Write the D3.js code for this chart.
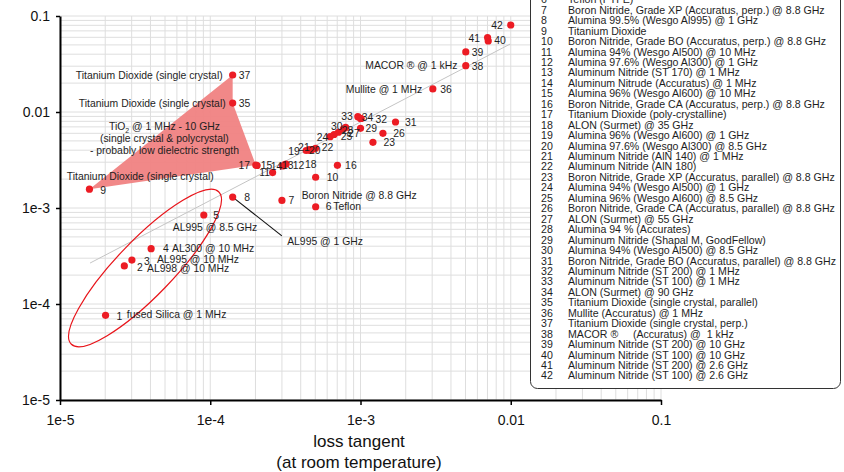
<!DOCTYPE html>
<html><head><meta charset="utf-8">
<script src="https://cdn.jsdelivr.net/npm/d3@7"></script>
<style>body{margin:0;background:#fff} svg{display:block;font-family:"Liberation Sans",Arial,sans-serif}</style>
</head><body><svg id="c" width="844" height="472"></svg>
<script>
// ---------- data ----------
const ids = d3.range(1, 43);
const lossTangent = [2.01e-5,2.68e-5,3.01e-5,4.04e-5,9.06e-5,5.03e-4,3.0e-4,1.41e-4,1.57e-5,5.03e-4,
  2.6e-4,3.2e-4,3.13e-4,3.03e-4,2.05e-4,7.02e-4,2.01e-4,4.61e-4,4.35e-4,4.76e-4,
  4.55e-4,5.02e-4,1.21e-3,6.28e-4,7.13e-4,1.41e-3,7.96e-4,7.69e-4,1.0e-3,6.67e-4,
  1.71e-3,1.01e-3,9.6e-4,9.97e-4,1.41e-4,3.03e-3,1.41e-4,5.02e-3,5.02e-3,7.08e-3,7.01e-3,1.0e-2];
const yValue = [7.63e-5,2.49e-4,2.87e-4,3.77e-4,8.45e-4,1.03e-3,1.2e-3,1.30e-3,1.57e-3,2.09e-3,
  2.34e-3,2.87e-3,2.84e-3,2.74e-3,2.77e-3,2.78e-3,2.8e-3,3.97e-3,3.97e-3,4.06e-3,
  4.06e-3,4.19e-3,4.83e-3,5.53e-3,6.15e-3,6.0e-3,6.9e-3,6.65e-3,6.76e-3,5.83e-3,
  7.87e-3,8.56e-3,8.93e-3,8.6e-3,0.0124,0.0174,0.0243,0.0304,0.0422,0.055,0.0597,0.0806];
const materials = [
  "Fused Silica @ 1 MHz",
  "Alumina 99.8% (Wesgo Al998) @ 10 MHz",
  "Alumina 99.5% (Wesgo Al995) @ 10 MHz",
  "Alumina 97.6% (Wesgo Al300) @ 10 MHz",
  "Alumina 99.5% (Wesgo Al995) @ 8.5 GHz",
  "Teflon (PTFE)",
  "Boron Nitride, Grade XP (Accuratus, perp.) @ 8.8 GHz",
  "Alumina 99.5% (Wesgo Al995) @ 1 GHz",
  "Titanium Dioxide",
  "Boron Nitride, Grade BO (Accuratus, perp.) @ 8.8 GHz",
  "Alumina 94% (Wesgo Al500) @ 10 MHz",
  "Alumina 97.6% (Wesgo Al300) @ 1 GHz",
  "Aluminum Nitride (ST 170) @ 1 MHz",
  "Aluminum Nitrude (Accuratus) @ 1 MHz",
  "Alumina 96% (Wesgo Al600) @ 10 MHz",
  "Boron Nitride, Grade CA (Accuratus, perp.) @ 8.8 GHz",
  "Titanium Dioxide (poly-crystalline)",
  "ALON (Surmet) @ 35 GHz",
  "Alumina 96% (Wesgo Al600) @ 1 GHz",
  "Alumina 97.6% (Wesgo Al300) @ 8.5 GHz",
  "Aluminum Nitride (AlN 140) @ 1 MHz",
  "Aluminum Nitride (AlN 180)",
  "Boron Nitride, Grade XP (Accuratus, parallel) @ 8.8 GHz",
  "Alumina 94% (Wesgo Al500) @ 1 GHz",
  "Alumina 96% (Wesgo Al600) @ 8.5 GHz",
  "Boron Nitride, Grade CA (Accuratus, parallel) @ 8.8 GHz",
  "ALON (Surmet) @ 55 GHz",
  "Alumina 94 % (Accurates)",
  "Aluminum Nitride (Shapal M, GoodFellow)",
  "Alumina 94% (Wesgo Al500) @ 8.5 GHz",
  "Boron Nitride, Grade BO (Accuratus, parallel) @ 8.8 GHz",
  "Aluminum Nitride (ST 200) @ 1 MHz",
  "Aluminum Nitride (ST 100) @ 1 MHz",
  "ALON (Surmet) @ 90 GHz",
  "Titanium Dioxide (single crystal, parallel)",
  "Mullite (Accuratus) @ 1 MHz",
  "Titanium Dioxide (single crystal, perp.)",
  "MACOR \u00AE     (Accuratus) @  1 kHz",
  "Aluminum Nitride (ST 200) @ 10 GHz",
  "Aluminum Nitride (ST 100) @ 10 GHz",
  "Aluminum Nitride (ST 200) @ 2.6 GHz",
  "Aluminum Nitride (ST 100) @ 2.6 GHz"];
const tickValues = [1e-5, 1e-4, 1e-3, 1e-2, 1e-1];
const tickLabels = ["1e-5", "1e-4", "1e-3", "0.01", "0.1"];
const xTitle = ["loss tangent", "(at room temperature)"];
const tio2Group = [9, 37, 35, 17];
const trendX = [1.585e-5, 0.0099];
const trendY = [2.67e-4, 0.051];
const ellipseCenter = [3.68e-5, 2.37e-4];
const tio2Text = ["TiO|2| @ 1 MHz - 10 GHz", "(single crystal & polycrystal)", "- probably low dielectric strength"];
const notes = [
  [1, "fused Silica @ 1 MHz"], [2, "AL998 @ 10 MHz"], [3, "AL995 @ 10 MHz"], [4, "AL300 @ 10 MHz"],
  [5, "AL995 @ 8.5 GHz"], [6, "Teflon"], [7, "Boron Nitride @ 8.8 GHz"], [8, "AL995 @ 1 GHz"],
  [9, "Titanium Dioxide (single crystal)"], [35, "Titanium Dioxide (single crystal)"],
  [37, "Titanium Dioxide (single crystal)"], [36, "Mullite @ 1 MHz"], [38, "MACOR \u00AE @ 1 kHz"]];

// ---------- layout (label offsets, px) ----------
const numOff = {1:[11,1],2:[12.7,1],3:[12,1],4:[12,0],5:[9.5,0],6:[10,-0.7],7:[6.5,0],8:[11.5,0],9:[10.7,1],
  10:[11,0],11:[-2.5,-0.3,'end'],12:[6.7,1.7],13:[-2.8,1.2],14:[-11.8,0],15:[3.7,0.2],16:[7.7,0],17:[-5.7,0,'end'],
  18:[-5,13.8],19:[-18,0.8],20:[-3,1.2],21:[-11,-1.8],22:[6.2,-0.6],23:[10.5,0.4],24:[-13.3,0.3],25:[2.4,4.4],
  26:[10.3,0],27:[2.5,5.8],28:[-1.6,1],29:[5,0],30:[-3,-8],31:[9.5,0.7],32:[14.3,0.8],33:[-5,0,'end'],34:[1.4,-1.3],
  35:[6,0],36:[7.3,0],37:[6,0],38:[6,0.3],39:[6,0],40:[6,-1],41:[-7.5,0.5,'end'],42:[-8,0,'end']};
const noteOff = {1:[21.3,-0.6],2:[22.7,2],3:[25,-1],4:[21,0],5:[-31,12],6:[17.6,-0.7],7:[19.7,-5.2],8:[54.5,43.8],
  9:[-22.6,-12.6],35:[-7,0,'end'],37:[-10,0,'end'],36:[-10.7,0,'end'],38:[-8.4,0,'end']};

const W = 844, H = 472;
const svg = d3.select("#c");
const x = d3.scaleLog().domain([1e-5, 0.1]).range([60, 661]);
const y = d3.scaleLog().domain([1e-5, 0.1]).range([400, 16]);
const pts = ids.map((id, i) => ({id, x: lossTangent[i], y: yValue[i], name: materials[i]}));
const P = id => pts[id - 1];
const fs = 10.4, lfs = 10.6, red = "#ec1c24", ink = "#1e1e1e";

// grid
const g = svg.append("g");
g.selectAll(".vg").data(x.ticks()).join("line")
  .attr("x1", d => x(d)).attr("x2", d => x(d)).attr("y1", y(1e-5)).attr("y2", y(0.1))
  .attr("stroke", "#dedede").attr("stroke-width", 1);
g.selectAll(".hg").data(y.ticks()).join("line")
  .attr("x1", x(1e-5)).attr("x2", x(0.1)).attr("y1", d => y(d)).attr("y2", d => y(d))
  .attr("stroke", "#dedede").attr("stroke-width", 1);

// trend line
svg.append("line").attr("x1", x(trendX[0])).attr("y1", y(trendY[0]))
  .attr("x2", x(trendX[1])).attr("y2", y(trendY[1]))
  .attr("stroke", "#c4c4c4").attr("stroke-width", 1);

// TiO2 polygon
svg.append("polygon")
  .attr("points", tio2Group.map(id => [x(P(id).x), y(P(id).y)].join(",")).join(" "))
  .attr("fill", "#f08282").attr("fill-opacity", 0.95);

// ellipse
svg.append("ellipse")
  .attr("transform", `translate(${x(ellipseCenter[0])},${y(ellipseCenter[1])}) rotate(-46)`)
  .attr("rx", 106).attr("ry", 28).attr("fill", "none").attr("stroke", "#e8141a").attr("stroke-width", 1.2);

// axes
const ax = svg.append("g").attr("transform", `translate(0,${y(1e-5)})`)
  .call(d3.axisBottom(x).tickValues(tickValues).tickFormat((d, i) => tickLabels[i]).tickSize(5).tickSizeOuter(0).tickPadding(10));
const ay = svg.append("g").attr("transform", `translate(${x(1e-5)},0)`)
  .call(d3.axisLeft(y).tickValues(tickValues).tickFormat((d, i) => tickLabels[i]).tickSize(4).tickSizeOuter(0).tickPadding(6));
[ax, ay].forEach(a => {
  a.select(".domain").attr("stroke", "#000").attr("stroke-width", 2);
  a.selectAll(".tick line").attr("stroke", "#000").attr("stroke-width", 1.5);
  a.selectAll("text").attr("font-size", 14).attr("fill", "#111").attr("font-family", '"Liberation Sans",Arial,sans-serif');
});

// x title
svg.append("text").attr("x", 359).attr("y", 447).attr("text-anchor", "middle")
  .attr("font-size", 17).attr("fill", "#111").text(xTitle[0]);
svg.append("text").attr("x", 359).attr("y", 468).attr("text-anchor", "middle")
  .attr("font-size", 17).attr("fill", "#111").text(xTitle[1]);

// leader line for 8
svg.append("line").attr("x1", x(P(8).x)).attr("y1", y(P(8).y))
  .attr("x2", x(P(8).x) + 49.2).attr("y2", y(P(8).y) + 38.8)
  .attr("stroke", "#111").attr("stroke-width", 1.1);

// TiO2 text block (relative to point 37)
const p37 = [x(P(37).x), y(P(37).y)];
const tioOff = [[-123.7, 51], [-132.7, 63], [-142.7, 75]];
tio2Text.forEach((t, i) => {
  const tx = svg.append("text").attr("x", p37[0] + tioOff[i][0]).attr("y", p37[1] + tioOff[i][1])
    .attr("dy", "0.35em").attr("font-size", fs).attr("fill", ink);
  const parts = t.split("|");
  if (parts.length > 1) {
    tx.append("tspan").text(parts[0]);
    tx.append("tspan").attr("font-size", 7).attr("dy", 3).text(parts[1]);
    tx.append("tspan").attr("dy", -3).text(parts[2]);
  } else tx.text(t);
});

// points
svg.selectAll(".pt").data(pts).join("circle")
  .attr("cx", d => x(d.x)).attr("cy", d => y(d.y)).attr("r", 3.6).attr("fill", red);

// number labels
svg.selectAll(".nl").data(pts).join("text")
  .attr("x", d => x(d.x) + numOff[d.id][0]).attr("y", d => y(d.y) + numOff[d.id][1])
  .attr("dy", "0.35em").attr("text-anchor", d => numOff[d.id][2] || "start")
  .attr("font-size", fs).attr("fill", ink).text(d => d.id);

// notes
svg.selectAll(".note").data(notes).join("text")
  .attr("x", d => x(P(d[0]).x) + noteOff[d[0]][0]).attr("y", d => y(P(d[0]).y) + noteOff[d[0]][1])
  .attr("dy", "0.35em").attr("text-anchor", d => noteOff[d[0]][2] || "start")
  .attr("font-size", fs).attr("fill", ink).text(d => d[1]);

// legend
const lg = svg.append("g");
const rowY = i => 10 + (i - 7) * 10.45;
lg.append("rect").attr("x", 530.5).attr("y", -80).attr("width", 310).attr("height", 468.5)
  .attr("rx", 7).attr("fill", "#fff").attr("stroke", "#333").attr("stroke-width", 1);
lg.selectAll(".ln").data(pts).join("text").attr("x", 541).attr("y", d => rowY(d.id)).attr("dy", "0.35em")
  .attr("font-size", lfs).attr("fill", ink).text(d => d.id);
lg.selectAll(".lt").data(pts).join("text").attr("x", 568).attr("y", d => rowY(d.id)).attr("dy", "0.35em")
  .attr("font-size", lfs).attr("fill", ink).style("white-space", "pre").text(d => d.name);
</script></body></html>
